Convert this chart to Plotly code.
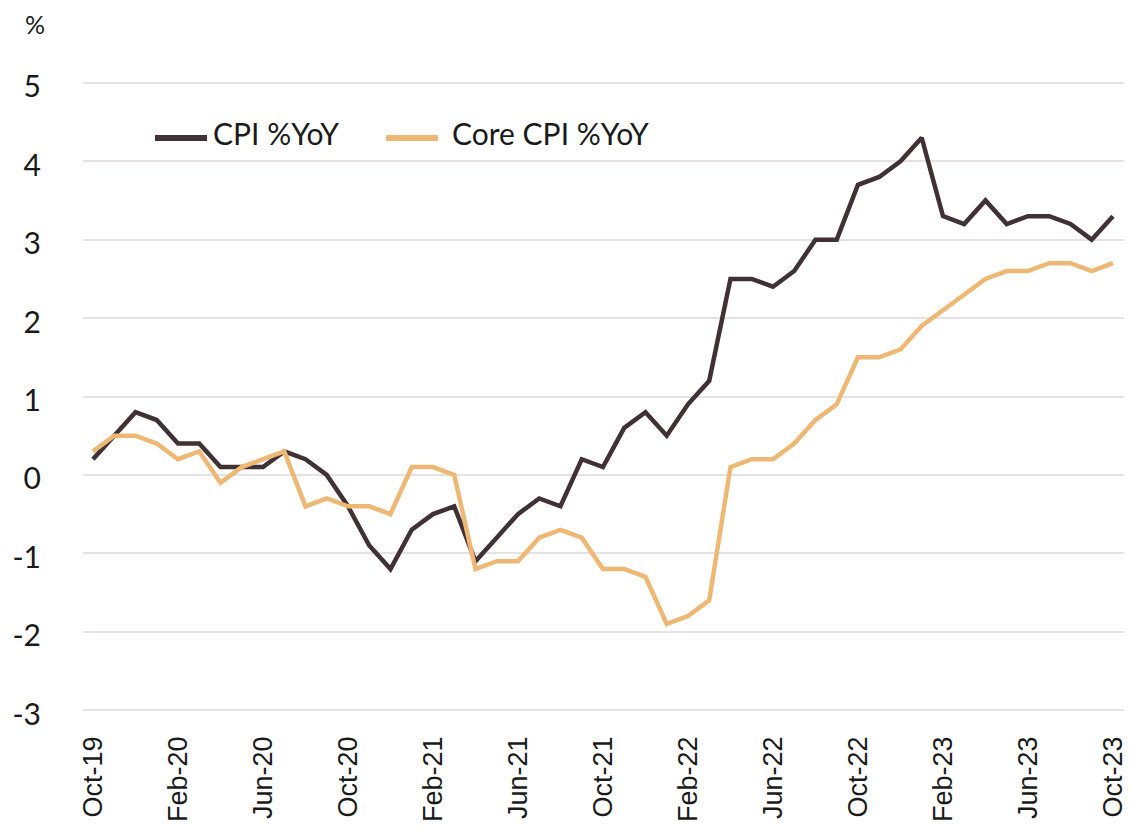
import plotly.graph_objects as go
import pandas as pd

months = pd.date_range("2019-10-01", "2023-10-01", freq="MS")
labels = [d.strftime("%b-%y") for d in months]

cpi = [0.2, 0.5, 0.8, 0.7, 0.4, 0.4, 0.1, 0.1, 0.1, 0.3, 0.2, 0.0,
       -0.4, -0.9, -1.2, -0.7, -0.5, -0.4, -1.1, -0.8, -0.5, -0.3, -0.4, 0.2,
       0.1, 0.6, 0.8, 0.5, 0.9, 1.2, 2.5, 2.5, 2.4, 2.6, 3.0, 3.0,
       3.7, 3.8, 4.0, 4.3, 3.3, 3.2, 3.5, 3.2, 3.3, 3.3, 3.2, 3.0, 3.3]
core = [0.3, 0.5, 0.5, 0.4, 0.2, 0.3, -0.1, 0.1, 0.2, 0.3, -0.4, -0.3,
        -0.4, -0.4, -0.5, 0.1, 0.1, 0.0, -1.2, -1.1, -1.1, -0.8, -0.7, -0.8,
        -1.2, -1.2, -1.3, -1.9, -1.8, -1.6, 0.1, 0.2, 0.2, 0.4, 0.7, 0.9,
        1.5, 1.5, 1.6, 1.9, 2.1, 2.3, 2.5, 2.6, 2.6, 2.7, 2.7, 2.6, 2.7]

series_names = ["CPI %YoY", "Core CPI %YoY"]
series_colors = ["#3f3134", "#eeb874"]
tick_labels = labels[::4]
y_ticks = [-3, -2, -1, 0, 1, 2, 3, 4, 5]
y_ticktext = [str(v) for v in y_ticks]

# page body has an 8px default margin; figure sized to fill the window
OFF = 8
FW, FH = 1145 - OFF, 835 - OFF
# plot area in window pixels: left 83, right 1124, top 75, bottom 718
L, R, T, B = 83 - OFF, 1145 - 1124, 75 - OFF, 835 - 718
W = FW - L - R
H = FH - T - B


def px_x(p):
    return (p - OFF - L) / W


def px_y(p):
    return (FH - B - (p - OFF)) / H


fig = go.Figure()
for name, vals, col in zip(series_names, [cpi, core], series_colors):
    fig.add_trace(go.Scatter(x=labels, y=vals, mode="lines", name=name,
                             line=dict(color=col, width=4.5), showlegend=False))

# manual legend (line samples + labels)
legend_pos = [(155, 207, 211), (386, 438, 450)]
shapes = []
annotations = []
for (x0, x1, tx), name, col in zip(legend_pos, series_names, series_colors):
    shapes.append(dict(type="line", xref="paper", yref="paper",
                       x0=px_x(x0), x1=px_x(x1), y0=px_y(138), y1=px_y(138),
                       line=dict(color=col, width=6)))
    annotations.append(dict(text=name, xref="paper", yref="paper", x=px_x(tx), y=px_y(133),
                            xanchor="left", yanchor="middle", showarrow=False,
                            font=dict(size=30, family="Lato, sans-serif", color="#1a1a1a")))
annotations.append(dict(text="%", xref="paper", yref="paper", x=px_x(35), y=px_y(24),
                        xanchor="center", yanchor="middle", showarrow=False, borderpad=0,
                        font=dict(size=25, family="Lato, sans-serif", color="#1a1a1a")))

fig.update_layout(
    width=FW, height=FH,
    paper_bgcolor="white", plot_bgcolor="white",
    margin=dict(l=L, r=R, t=T, b=B),
    font=dict(family="Lato, sans-serif", color="#1a1a1a"),
    showlegend=False,
    shapes=shapes,
    annotations=annotations,
)
fig.update_xaxes(type="category", range=[-0.47, 48.52], tickmode="array",
                 tickvals=tick_labels, ticktext=tick_labels, tickangle=-90,
                 showgrid=False, showline=False, zeroline=False, ticks="",
                 ticklabelstandoff=12, automargin=False,
                 tickfont=dict(family="Liberation Sans, Arial, sans-serif", size=27, color="#1a1a1a"))
fig.update_yaxes(range=[-3.1, 5.1], tickmode="array", tickvals=y_ticks, ticktext=y_ticktext,
                 showgrid=True, gridcolor="#e6e2e4", gridwidth=2, zeroline=False, showline=False,
                 ticks="", ticklabelstandoff=41, ticklabelshift=4, automargin=False,
                 tickfont=dict(family="Lato, sans-serif", size=30, color="#1a1a1a"))

fig.write_html("out.html")
